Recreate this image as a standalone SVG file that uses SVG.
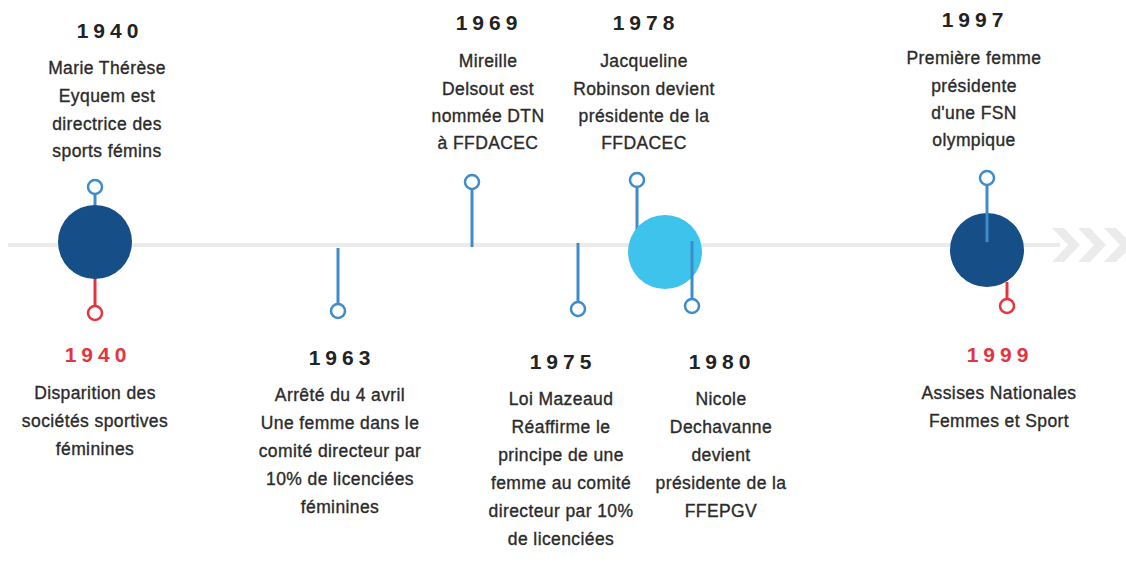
<svg xmlns="http://www.w3.org/2000/svg" width="1126" height="571" viewBox="0 0 1126 571">
<style>
.yr{font-family:"Liberation Sans",Arial,sans-serif;font-weight:bold;font-size:21px;letter-spacing:5px;fill:#232323;text-anchor:middle}
.red{fill:#e5343d}
.tx{font-family:"Liberation Sans",Arial,sans-serif;font-size:17.5px;letter-spacing:0.4px;fill:#2b2b2b;stroke:#2b2b2b;stroke-width:0.35px;text-anchor:middle}
.stem{stroke:#3f8ccb;stroke-width:3;fill:none}
.pin{stroke:#3f8ccb;stroke-width:2.5;fill:#fff}
.rstem{stroke:#e5343d;stroke-width:3;fill:none}
.rpin{stroke:#e5343d;stroke-width:2.5;fill:#fff}
</style>
<rect width="1126" height="571" fill="#fff"/>
<g id="axis">
<line x1="8" y1="245" x2="1060" y2="245" stroke="#ebebeb" stroke-width="4"/>
<g fill="#ebebeb">
<polygon points="1052,228 1064,228 1080,245 1064,262 1052,262 1068,245"/>
<polygon points="1078,228 1090,228 1106,245 1090,262 1078,262 1094,245"/>
<polygon points="1104,228 1116,228 1126,238 1126,252 1116,262 1104,262 1120,245"/>
</g>
</g>
<g id="connectors">
<line class="stem" x1="95" y1="194" x2="95" y2="210"/>
<line class="rstem" x1="95" y1="275" x2="95" y2="306"/>
<line class="stem" x1="338" y1="248" x2="338" y2="304"/>
<line class="stem" x1="472" y1="189" x2="472" y2="247"/>
<line class="stem" x1="578" y1="243" x2="578" y2="302"/>
<line class="stem" x1="637" y1="187" x2="637" y2="230"/>
<line class="rstem" x1="1007" y1="282" x2="1007" y2="299"/>
</g>
<g id="n1940a">
<circle cx="95" cy="242" r="37" fill="#164e87"/>
<circle class="pin" cx="95" cy="187" r="7"/>
<text class="yr" x="110" y="38">1940</text>
<text class="tx" x="107" y="74">Marie Thérèse</text>
<text class="tx" x="107" y="102">Eyquem est</text>
<text class="tx" x="107" y="130">directrice des</text>
<text class="tx" x="107" y="157">sports fémins</text>
</g>
<g id="n1940b">
<circle class="rpin" cx="95" cy="313" r="7"/>
<text class="yr red" x="98" y="362">1940</text>
<text class="tx" x="95" y="399">Disparition des</text>
<text class="tx" x="95" y="427">sociétés sportives</text>
<text class="tx" x="95" y="455">féminines</text>
</g>
<g id="n1963">
<circle class="pin" cx="338" cy="311" r="7"/>
<text class="yr" x="342" y="365">1963</text>
<text class="tx" x="340" y="401">Arrêté du 4 avril</text>
<text class="tx" x="340" y="429">Une femme dans le</text>
<text class="tx" x="340" y="457">comité directeur par</text>
<text class="tx" x="340" y="485">10% de licenciées</text>
<text class="tx" x="340" y="513">féminines</text>
</g>
<g id="n1969">
<circle class="pin" cx="472" cy="182" r="7"/>
<text class="yr" x="489" y="30">1969</text>
<text class="tx" x="488" y="67">Mireille</text>
<text class="tx" x="488" y="95">Delsout est</text>
<text class="tx" x="488" y="122">nommée DTN</text>
<text class="tx" x="488" y="149">à FFDACEC</text>
</g>
<g id="n1975">
<circle class="pin" cx="578" cy="309" r="7"/>
<text class="yr" x="563" y="369">1975</text>
<text class="tx" x="561" y="405">Loi Mazeaud</text>
<text class="tx" x="561" y="433">Réaffirme le</text>
<text class="tx" x="561" y="461">principe de une</text>
<text class="tx" x="561" y="489">femme au comité</text>
<text class="tx" x="561" y="517">directeur par 10%</text>
<text class="tx" x="561" y="545">de licenciées</text>
</g>
<g id="n1978">
<circle cx="665" cy="252" r="37" fill="#3ec3ec"/>
<circle class="pin" cx="637" cy="180" r="7"/>
<text class="yr" x="646" y="30">1978</text>
<text class="tx" x="644" y="67">Jacqueline</text>
<text class="tx" x="644" y="95">Robinson devient</text>
<text class="tx" x="644" y="122">présidente de la</text>
<text class="tx" x="644" y="149">FFDACEC</text>
</g>
<g id="n1980">
<line class="stem" x1="692" y1="241" x2="692" y2="299"/>
<circle class="pin" cx="692" cy="306" r="7"/>
<text class="yr" x="722" y="369">1980</text>
<text class="tx" x="721" y="405">Nicole</text>
<text class="tx" x="721" y="433">Dechavanne</text>
<text class="tx" x="721" y="461">devient</text>
<text class="tx" x="721" y="489">présidente de la</text>
<text class="tx" x="721" y="517">FFEPGV</text>
</g>
<g id="n1997">
<circle cx="987" cy="250" r="37" fill="#164e87"/>
<line class="stem" x1="987" y1="185" x2="987" y2="242" stroke="#5aa0d6"/>
<circle class="pin" cx="987" cy="178" r="7"/>
<text class="yr" x="975" y="27">1997</text>
<text class="tx" x="974" y="64">Première femme</text>
<text class="tx" x="974" y="92">présidente</text>
<text class="tx" x="974" y="119">d'une FSN</text>
<text class="tx" x="974" y="146">olympique</text>
</g>
<g id="n1999">
<circle class="rpin" cx="1007" cy="306" r="7"/>
<text class="yr red" x="1000" y="362">1999</text>
<text class="tx" x="999" y="399">Assises Nationales</text>
<text class="tx" x="999" y="427">Femmes et Sport</text>
</g>
</svg>
